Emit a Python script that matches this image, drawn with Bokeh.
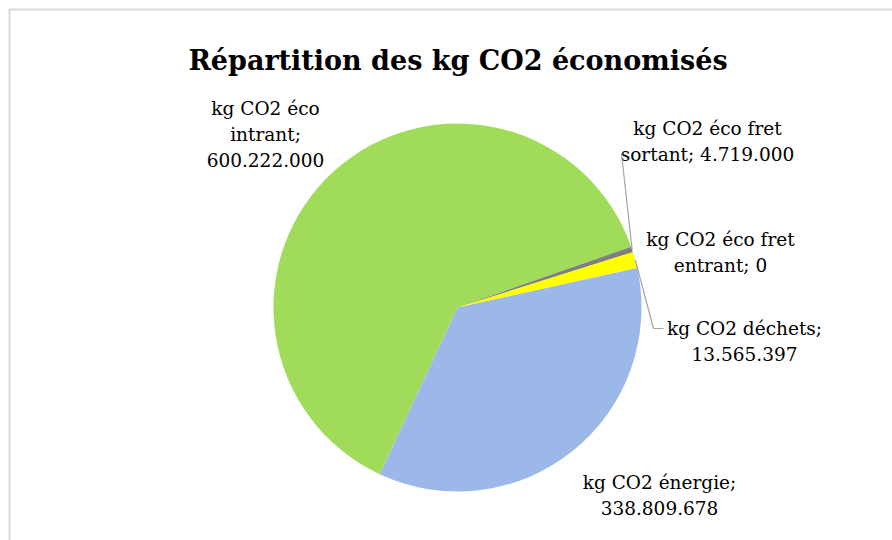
import math
import textwrap
from bokeh.plotting import figure
from bokeh.models import Range1d, ColumnDataSource
from bokeh.core.properties import value
from bokeh.embed import file_html
from bokeh.resources import INLINE

# ---- data ----
categories = ["kg CO2 éco intrant", "kg CO2 éco fret sortant", "kg CO2 éco fret entrant",
              "kg CO2 déchets", "kg CO2 énergie"]
values = [600222000, 4719000, 0, 13565397, 338809678]
colors = ["#a0dc5a", "#7f7f7f", "#4f81bd", "#ffff00", "#9bb8e9"]
title_text = "Répartition des kg CO2 économisés"

# ---- layout (pixels of the page) ----
W, H = 892, 540
def X(px):
    return px
def Y(py):
    return H - py

FONT = value("DejaVu Serif")

cx, cy, R = X(457), Y(307), 184
first_angle = math.radians(245.0)   # start of first slice (math convention), drawn clockwise

p = figure(width=W, height=H, x_range=Range1d(0, W), y_range=Range1d(0, H),
           output_backend="svg", toolbar_location=None, min_border=0,
           x_axis_type=None, y_axis_type=None)
p.grid.visible = False
p.outline_line_color = None
p.background_fill_color = "white"
p.border_fill_color = "white"

# chart-area frame (only left/top visible in reference)
p.line([X(9), X(9), W], [0, Y(9), Y(9)], line_color="#d9d9d9", line_width=2)

# ---- pie ----
total = float(sum(values))
starts, ends, mids = [], [], []
cum = 0.0
for v in values:
    a0 = first_angle - 2 * math.pi * cum / total
    cum += v
    a1 = first_angle - 2 * math.pi * cum / total
    starts.append(a0)
    ends.append(a1)
    mids.append((a0 + a1) / 2)

idx = [i for i, v in enumerate(values) if v > 0]
src = ColumnDataSource(dict(
    start=[starts[i] for i in idx], end=[ends[i] for i in idx],
    color=[colors[i] for i in idx]))
p.wedge(x=cx, y=cy, radius=R, start_angle="start", end_angle="end",
        direction="clock", fill_color="color", line_color=None, source=src)

# ---- title ----
p.text(x=[X(457.5)], y=[Y(60)], text=[title_text], text_font=FONT,
       text_font_style="bold", text_font_size="27px", text_align="center",
       text_baseline="alphabetic", text_color="black")

# ---- data labels ----
def fmt(v):
    return f"{v:,}".replace(",", ".")

label_pos = [(265, 108), (707, 128), (720, 239), (744, 328), (659, 482)]
wrap_w = [11, 18, 15, 15, 15]
lx, ly, lt = [], [], []
for i, cat in enumerate(categories):
    s = f"{cat}; {fmt(values[i])}"
    lines = textwrap.wrap(s, wrap_w[i])
    x0, y0 = label_pos[i]
    for k, ln in enumerate(lines):
        lx.append(X(x0))
        ly.append(Y(y0 + 25.5 * k))
        lt.append(ln)
p.text(x=lx, y=ly, text=lt, text_font=FONT, text_font_size="18.5px",
       text_align="center", text_baseline="alphabetic", text_color="black")

# ---- leader lines ----
# fret sortant
m = mids[1]
ex, ey = cx + R * math.cos(m), cy + R * math.sin(m)
p.line([X(621), ex], [Y(153), ey], line_color="#a6a6a6", line_width=1.2)
# déchets
m = mids[3]
ex, ey = cx + R * math.cos(m), cy + R * math.sin(m)
p.line([ex, X(653), X(663)], [ey, Y(328), Y(328)], line_color="#a6a6a6", line_width=1.2)

open("out.html", "w").write(file_html(p, INLINE))
